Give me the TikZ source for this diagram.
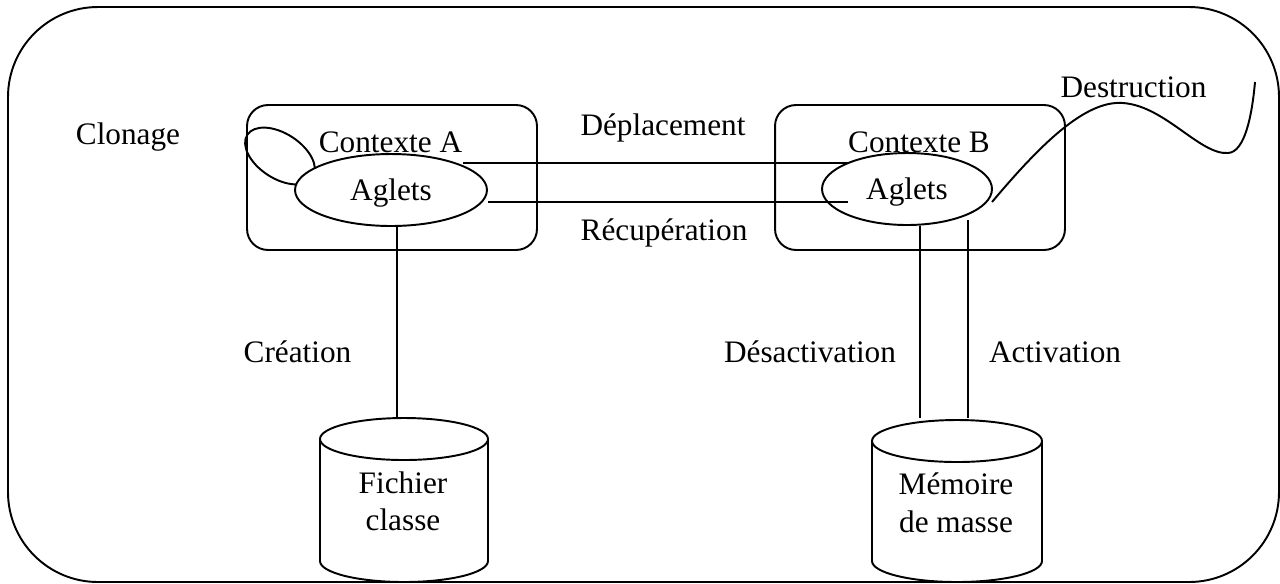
\documentclass[tikz,border=0pt]{standalone}
\usepackage{fontspec}
\setmainfont{Liberation Serif}
\usetikzlibrary{shapes.geometric}

\tikzset{
  lbl/.style={font=\fontsize{17.8}{21}\selectfont, inner sep=0pt, anchor=base},
  ctxbox/.style={draw, rectangle, rounded corners=0.42cm, inner sep=0pt,
                 minimum width=5.8cm, minimum height=2.9cm},
  agent/.style={draw, fill=white, ellipse, inner sep=0pt,
                font=\fontsize{17.8}{21}\selectfont,
                text height=12.4pt, text depth=0pt},
  link/.style={line width=1.1pt},
}

\begin{document}
\begin{tikzpicture}[x=0.02cm, y=-0.02cm, line width=1.1pt]
  \useasboundingbox (0,0) rectangle (1280,583);

  % outer frame
  \draw[rounded corners=1.8cm] (8,7) rectangle (1279,582);

  % contexts
  \node[ctxbox] (ctxA) at (392,177.5) {};
  \node[ctxbox] (ctxB) at (920,177.5) {};
  \node[lbl] (ctxAlbl) at (390.5,152) {Contexte A};
  \node[lbl] (ctxBlbl) at (919,152) {Contexte B};

  % cloning loop, partly covered by the agent
  \node[draw, ellipse, rotate=-33, inner sep=0pt,
        minimum width=1.56cm, minimum height=0.9cm] (clone) at (280,156) {};

  % agents
  \node[agent, minimum width=3.84cm, minimum height=1.44cm] (aglA) at (391,190) {Aglets};
  \node[agent, minimum width=3.4cm, minimum height=1.44cm] (aglB) at (907,189) {Aglets};

  \node[lbl] (clonage) at (128,144) {Clonage};

  % moves between contexts
  \coordinate (depA) at (463,163);
  \coordinate (depB) at (848,163);
  \coordinate (recA) at (488,202);
  \coordinate (recB) at (848,202);
  \draw (depA) -- (depB);
  \draw (recA) -- (recB);
  \node[lbl] (dep) at (663,135) {Déplacement};
  \node[lbl] (rec) at (664,240) {Récupération};

  % class file store
  \draw (320,439) -- (320,561) arc[start angle=180, end angle=0, x radius=84, y radius=21]
        -- (488,439);
  \draw (404,439) ellipse [x radius=84, y radius=21];
  \node[lbl] (fich1) at (403,493) {Fichier};
  \node[lbl] (fich2) at (403,530) {classe};
  \coordinate (fcTop) at (397,418);
  \draw (fcTop |- aglA.south) -- (fcTop);
  \node[lbl] (creation) at (297.5,362) {Création};

  % mass storage
  \draw (872,441) -- (872,561) arc[start angle=180, end angle=0, x radius=85, y radius=21]
        -- (1042,441);
  \draw (957,441) ellipse [x radius=85, y radius=21];
  \node[lbl] (mem1) at (956,494) {Mémoire};
  \node[lbl] (mem2) at (956,532) {de masse};
  \coordinate (desTop) at (920,418);
  \coordinate (actTop) at (968,418);
  \coordinate (actBot) at (968,220);
  \draw (desTop |- aglB.south) -- (desTop);
  \draw (actBot) -- (actTop);
  \node[lbl] (desact) at (810,362) {Désactivation};
  \node[lbl] (act) at (1055,362) {Activation};

  % destruction
  \coordinate (dStart) at (992,202);
  \coordinate (dEnd) at (1255,82);
  \draw (dStart) .. controls (1040,145) and (1085,100) .. (1123,103)
        .. controls (1165,106) and (1200,155) .. (1228,153)
        .. controls (1245,152) and (1252,115) .. (dEnd);
  \node[lbl] (destr) at (1133.5,97) {Destruction};
\end{tikzpicture}
\end{document}
